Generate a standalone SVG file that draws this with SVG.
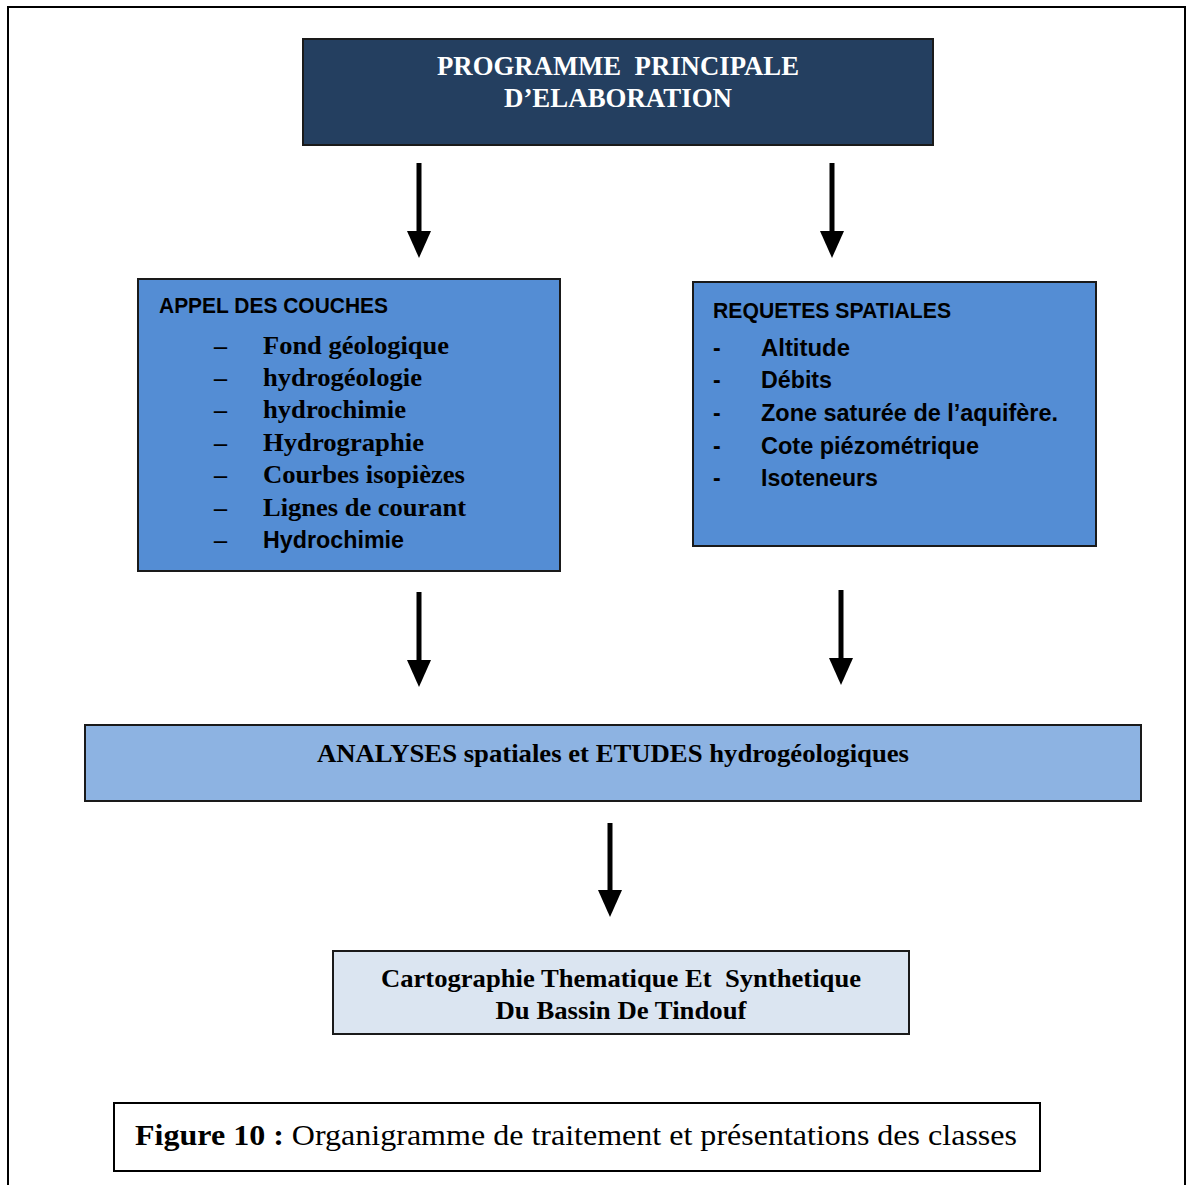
<svg xmlns="http://www.w3.org/2000/svg" width="1187" height="1185" viewBox="0 0 1187 1185">
<defs>
<style>
.frame{fill:none;stroke:#000;stroke-width:2}
.box{stroke:#1a1a1a;stroke-width:2}
.serifb{font-family:"Liberation Serif","Times New Roman",serif;font-weight:bold}
.serif{font-family:"Liberation Serif","Times New Roman",serif}
.sansb{font-family:"Liberation Sans",Arial,sans-serif;font-weight:bold}
.shaft{stroke:#000;stroke-width:5;fill:none}
</style>
<marker id="ah" markerUnits="userSpaceOnUse" markerWidth="28" markerHeight="26" refX="9" refY="13" orient="auto" viewBox="0 0 28 26">
<path d="M0,1 L0,25 L27,13 Z" fill="#000"/>
</marker>
</defs>
<rect x="0" y="0" width="1187" height="1185" fill="#fff"/>
<rect class="frame" x="8" y="7" width="1177" height="1200"/>

<g id="node-programme">
<rect class="box" x="303" y="39" width="630" height="106" fill="#243F60"/>
<text class="serifb" x="618" y="75" font-size="27" fill="#fff" text-anchor="middle" xml:space="preserve" textLength="362" lengthAdjust="spacingAndGlyphs">PROGRAMME  PRINCIPALE</text>
<text class="serifb" x="618" y="107" font-size="27" fill="#fff" text-anchor="middle" textLength="228" lengthAdjust="spacingAndGlyphs">D’ELABORATION</text>
</g>

<g id="node-appel">
<rect class="box" x="138" y="279" width="422" height="292" fill="#548DD4"/>
<text class="sansb" x="159" y="313" font-size="22" textLength="229" lengthAdjust="spacingAndGlyphs">APPEL DES COUCHES</text>
<g class="serifb" font-size="26">
<text x="214" y="354">–</text><text x="263" y="354" textLength="186" lengthAdjust="spacingAndGlyphs">Fond géologique</text>
<text x="214" y="386">–</text><text x="263" y="386" textLength="159" lengthAdjust="spacingAndGlyphs">hydrogéologie</text>
<text x="214" y="418">–</text><text x="263" y="418" textLength="143" lengthAdjust="spacingAndGlyphs">hydrochimie</text>
<text x="214" y="451">–</text><text x="263" y="451" textLength="161" lengthAdjust="spacingAndGlyphs">Hydrographie</text>
<text x="214" y="483">–</text><text x="263" y="483" textLength="202" lengthAdjust="spacingAndGlyphs">Courbes isopièzes</text>
<text x="214" y="516">–</text><text x="263" y="516" textLength="203" lengthAdjust="spacingAndGlyphs">Lignes de courant</text>
<text x="214" y="548">–</text>
</g>
<text class="sansb" x="263" y="548" font-size="23" textLength="141" lengthAdjust="spacingAndGlyphs">Hydrochimie</text>
</g>

<g id="node-requetes">
<rect class="box" x="693" y="282" width="403" height="264" fill="#548DD4"/>
<text class="sansb" x="713" y="318" font-size="22" textLength="238" lengthAdjust="spacingAndGlyphs">REQUETES SPATIALES</text>
<g class="sansb" font-size="23">
<text x="713" y="356">-</text><text x="761" y="356" textLength="89" lengthAdjust="spacingAndGlyphs">Altitude</text>
<text x="713" y="388">-</text><text x="761" y="388" textLength="71" lengthAdjust="spacingAndGlyphs">Débits</text>
<text x="713" y="421">-</text><text x="761" y="421" textLength="297" lengthAdjust="spacingAndGlyphs">Zone saturée de l’aquifère.</text>
<text x="713" y="454">-</text><text x="761" y="454" textLength="218" lengthAdjust="spacingAndGlyphs">Cote piézométrique</text>
<text x="713" y="486">-</text><text x="761" y="486" textLength="117" lengthAdjust="spacingAndGlyphs">Isoteneurs</text>
</g>
</g>

<g id="node-analyses">
<rect class="box" x="85" y="725" width="1056" height="76" fill="#8DB3E2"/>
<text class="serifb" x="613" y="762" font-size="26" text-anchor="middle" textLength="592" lengthAdjust="spacingAndGlyphs">ANALYSES spatiales et ETUDES hydrogéologiques</text>
</g>

<g id="node-cartographie">
<rect class="box" x="333" y="951" width="576" height="83" fill="#DBE5F1"/>
<text class="serifb" x="621" y="987" font-size="26" text-anchor="middle" xml:space="preserve" textLength="480" lengthAdjust="spacingAndGlyphs">Cartographie Thematique Et  Synthetique</text>
<text class="serifb" x="621" y="1019" font-size="26" text-anchor="middle" textLength="251" lengthAdjust="spacingAndGlyphs">Du Bassin De Tindouf</text>
</g>

<g id="caption">
<rect x="114" y="1103" width="926" height="68" fill="#fff" stroke="#000" stroke-width="2"/>
<text class="serif" x="135" y="1145" font-size="30" textLength="882" lengthAdjust="spacingAndGlyphs"><tspan font-weight="bold">Figure 10 :</tspan> Organigramme de traitement et présentations des classes</text>
</g>

<g id="connectors">
<line class="shaft" x1="419" y1="163" x2="419" y2="240" marker-end="url(#ah)"/>
<line class="shaft" x1="832" y1="163" x2="832" y2="240" marker-end="url(#ah)"/>
<line class="shaft" x1="419" y1="592" x2="419" y2="669" marker-end="url(#ah)"/>
<line class="shaft" x1="841" y1="590" x2="841" y2="667" marker-end="url(#ah)"/>
<line class="shaft" x1="610" y1="823" x2="610" y2="899" marker-end="url(#ah)"/>
</g>
</svg>
